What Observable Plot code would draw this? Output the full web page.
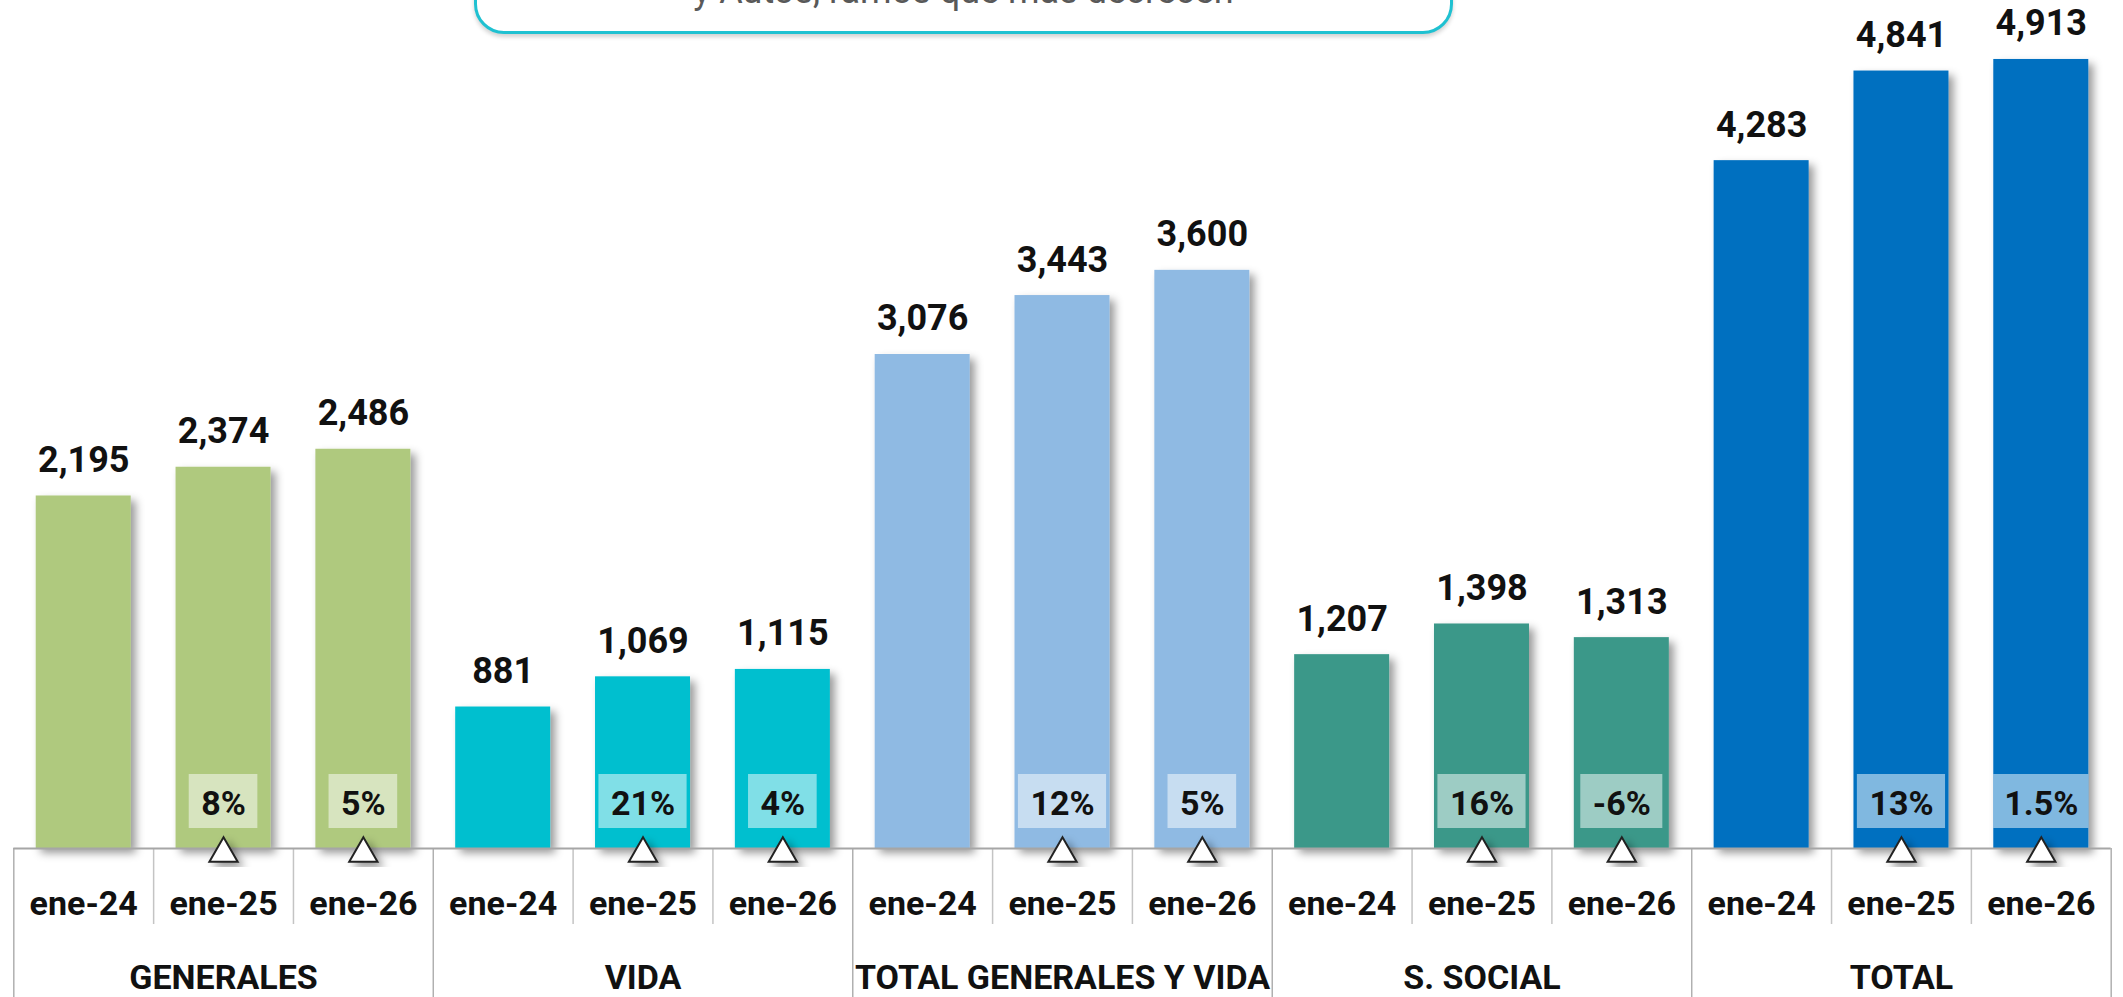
<!DOCTYPE html>
<html><head><meta charset="utf-8">
<script src="https://cdn.jsdelivr.net/npm/d3@7"></script>
<script src="https://cdn.jsdelivr.net/npm/@observablehq/plot@0.6"></script>
<style>
html,body{margin:0;padding:0;background:#fff;}
#wrap{position:relative;width:2123px;height:997px;overflow:hidden;}
#banner{position:absolute;left:474px;top:-60px;width:973px;height:88px;border:3px solid #1fc1d1;border-radius:30px;box-shadow:0 3px 4px rgba(0,0,0,0.18);background:#fff;z-index:2}
#banner span{position:absolute;left:0;right:0;top:30px;text-align:center;font:36px Roboto, sans-serif;color:#595959;line-height:36px;white-space:nowrap;}
#chart{position:absolute;left:0;top:0;}
</style></head><body>
<div id="wrap"><div id="chart"></div><div id="banner"><span>y Autos, ramos que más decrecen</span></div></div>
<script>
// ---- data ----
const groups = ["GENERALES", "VIDA", "TOTAL GENERALES Y VIDA", "S. SOCIAL", "TOTAL"];
const periods = ["ene-24", "ene-25", "ene-26"];
const generales = [2195, 2374, 2486];
const vida = [881, 1069, 1115];
const totalGenVida = [3076, 3443, 3600];
const sSocial = [1207, 1398, 1313];
const total = [4283, 4841, 4913];
const changeGenerales = [null, "8%", "5%"];
const changeVida = [null, "21%", "4%"];
const changeTotalGenVida = [null, "12%", "5%"];
const changeSSocial = [null, "16%", "-6%"];
const changeTotal = [null, "13%", "1.5%"];
const colors = ["#afc97e", "#00bfcf", "#8fbae3", "#3a9889", "#0070c0"];

const seriesValues = [generales, vida, totalGenVida, sSocial, total];
const seriesChanges = [changeGenerales, changeVida, changeTotalGenVida, changeSSocial, changeTotal];

const rows = [];
groups.forEach((g, gi) => periods.forEach((p, pi) => rows.push({
  group: g, period: p, key: g + "|" + p, gi, pi,
  value: seriesValues[gi][pi], change: seriesChanges[gi][pi]
})));
const keys = rows.map(d => d.key);

// ---- layout ----
const W = 2123, H = 997;
const mL = 13.3, mR = 12.3, mT = 45, mB = 149;
const step = (W - mL - mR) / keys.length;
const barW = 95;
const barInset = (step - barW) / 2;
const pctFont = 34;
const fmt = d3.format(",");
const zero = () => 0;

// box width follows the text width of each change label
const ctx = document.createElement("canvas").getContext("2d");
ctx.font = `700 ${pctFont}px Roboto`;
const boxInsetOf = t => Math.max(barInset, (step - (ctx.measureText(t).width + 24)) / 2);
const changeRows = rows.filter(d => d.change);
const boxMarks = changeRows.map(d => {
  const ins = boxInsetOf(d.change);
  return Plot.barY([d], {x: "key", y1: zero, y2: zero, insetLeft: ins, insetRight: ins, insetTop: -74, insetBottom: 20, fill: "white", fillOpacity: 0.5});
});

const svg = Plot.plot({
  width: W, height: H,
  marginLeft: mL, marginRight: mR, marginTop: mT, marginBottom: mB,
  style: {fontFamily: "Roboto, sans-serif", background: "white"},
  x: {type: "band", domain: keys, padding: 0, round: false, axis: null},
  y: {domain: [0, 5000], axis: null},
  color: {domain: groups, range: colors},
  marks: [
    // table lines
    Plot.ruleX(rows.filter(d => d.pi > 0), {x: "key", y1: zero, y2: zero, dx: -step / 2, insetBottom: -76, stroke: "#c4c4c4", strokeWidth: 1.5}),
    Plot.ruleX(rows.filter(d => d.pi === 0), {x: "key", y1: zero, y2: zero, dx: -step / 2, insetBottom: -160, stroke: "#b0b0b0", strokeWidth: 1.5}),
    Plot.ruleX(rows.slice(-1), {x: "key", y1: zero, y2: zero, dx: step / 2, insetBottom: -160, stroke: "#b0b0b0", strokeWidth: 1.5}),
    // bars
    Plot.barY(rows, {x: "key", y: "value", fill: "group", insetLeft: barInset, insetRight: barInset}),
    Plot.ruleY([0], {stroke: "#a6a6a6", strokeWidth: 2}),
    // change boxes
    ...boxMarks,
    Plot.text(changeRows, {x: "key", y: zero, text: "change", dy: -34, lineAnchor: "bottom", fontSize: pctFont, fontWeight: 700, fill: "#111"}),
    // triangles
    Plot.dot(changeRows, {x: "key", y: zero, symbol: "triangle", r: 10.5, fill: "white", stroke: "#222", strokeWidth: 2, dy: 5}),
    // value labels
    Plot.text(rows, {x: "key", y: "value", text: d => fmt(d.value), dy: -24, lineAnchor: "bottom", fontSize: 36, fontWeight: 700, fill: "#111"}),
    // period labels
    Plot.text(rows, {x: "key", y: zero, text: "period", dy: 66, lineAnchor: "bottom", fontSize: 34, fontWeight: 700, fill: "#111"}),
    // group labels
    Plot.text(rows.filter(d => d.pi === 1), {x: "key", y: zero, text: "group", dy: 140, lineAnchor: "bottom", fontSize: 34, fontWeight: 700, fill: "#111"})
  ]
});

// drop shadows
const s = d3.select(svg);
const f = s.insert("defs", ":first-child").append("filter").attr("id", "sh")
  .attr("x", "-10%").attr("y", "-10%").attr("width", "130%").attr("height", "130%");
f.append("feDropShadow").attr("dx", 5).attr("dy", 5).attr("stdDeviation", 4)
  .attr("flood-color", "#000").attr("flood-opacity", 0.4);
s.selectAll('g[aria-label="bar"]').filter((d, i) => i === 0).attr("filter", "url(#sh)");
s.selectAll('g[aria-label="dot"]').attr("filter", "url(#sh)");

document.getElementById("chart").appendChild(svg);
</script>
</body></html>
